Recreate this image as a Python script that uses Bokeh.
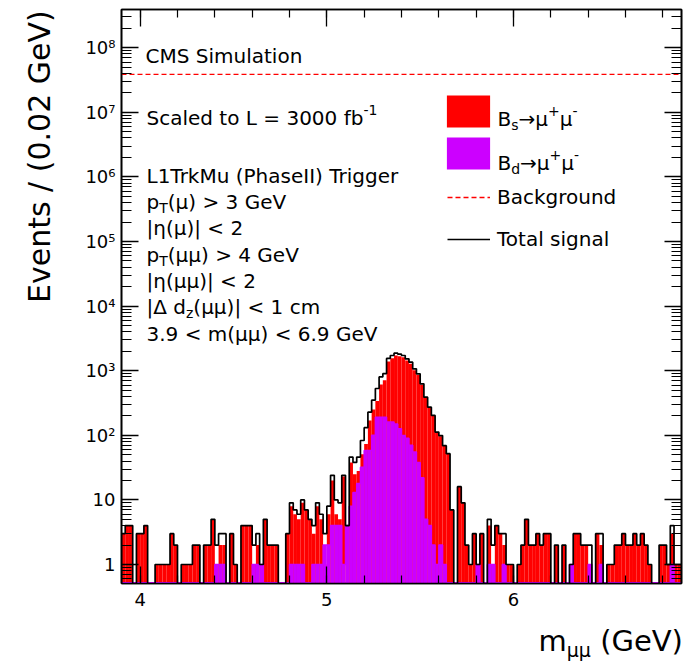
import numpy as np
from math import pi
from bokeh.plotting import figure
from bokeh.models import (ColumnDataSource, FixedTicker, LinearAxis, LogAxis,
                          Label, Legend, LegendItem)
from bokeh.embed import file_html
from bokeh.resources import INLINE

# ---------------- data ----------------
mass_lo, mass_hi = 3.9, 6.9          # GeV, 0.02 GeV bins (150 bins)

bs_counts = [
    3, 4, 4, 0, 3, 3, 4, 0, 0, 1,
    1, 1, 1, 3, 2, 0, 1, 1, 1, 2,
    2, 0, 2, 2, 5, 1, 2, 2, 0, 3,
    1, 0, 4, 4, 4, 1, 2, 0, 5, 2,
    2, 2, 0, 0, 3, 8, 6, 5, 9, 7,
    5, 3, 8, 5, 1, 6, 20, 6, 5, 23,
    0, 38, 25, 28, 51, 73, 170, 250, 340, 610,
    710, 1390, 1560, 1716, 1674, 1621, 1438, 1285, 1015, 857,
    605, 384, 268, 201, 111, 97, 68, 52, 7, 0,
    16, 9, 2, 1, 3, 0, 3, 0, 4, 1,
    4, 3, 2, 1, 1, 0, 1, 2, 5, 2,
    2, 3, 2, 3, 3, 0, 2, 0, 2, 0,
    0, 3, 3, 2, 2, 1, 0, 3, 2, 0,
    1, 1, 2, 2, 3, 2, 2, 3, 2, 3,
    2, 1, 0, 0, 2, 2, 1, 3, 1, 1,
]

bd_counts = [
    0, 0, 0, 0, 0, 0, 0, 0, 0, 0,
    0, 0, 0, 0, 0, 0, 0, 0, 0, 0,
    0, 0, 0, 0, 0, 1, 1, 1, 0, 0,
    0, 0, 0, 0, 0, 1, 1, 1, 0, 0,
    0, 0, 0, 0, 0, 1, 1, 1, 1, 0,
    0, 1, 1, 1, 2, 2, 4, 4, 4, 1,
    4, 8, 13, 18, 32, 58, 58, 100, 190, 190,
    190, 160, 160, 150, 126, 99, 90, 70, 55, 38,
    22, 5, 4, 2, 1, 2, 1, 0, 0, 0,
    0, 0, 0, 0, 0, 1, 0, 0, 1, 1,
    0, 0, 1, 0, 0, 0, 0, 0, 0, 0,
    0, 0, 0, 0, 0, 0, 0, 0, 0, 0,
    1, 0, 0, 0, 0, 1, 0, 0, 1, 0,
    0, 0, 0, 0, 0, 0, 0, 0, 0, 0,
    0, 0, 0, 0, 0, 0, 0, 1, 0, 0,
]

background_level = 3.85e7

x_major_ticks = [4, 5, 6]
y_tick_labels = {1.0: "1", 10.0: "10", 1e2: "10²", 1e3: "10³", 1e4: "10⁴",
                 1e5: "10⁵", 1e6: "10⁶", 1e7: "10⁷", 1e8: "10⁸"}
y_title = "Events / (0.02 GeV)"

# ---------------- derived ----------------
edges = np.linspace(mass_lo, mass_hi, len(bs_counts) + 1)
bs = np.array(bs_counts, float)
bd = np.array(bd_counts, float)
total = bs + bd

Y0, Y1 = 0.508, 3.9e8
FLOOR = 1e-3


def bars(vals):
    m = vals > 0
    return ColumnDataSource(dict(left=edges[:-1][m], right=edges[1:][m],
                                 top=vals[m], bottom=np.full(m.sum(), FLOOR)))


def step(vals, floor):
    xs = np.repeat(edges, 2)
    ys = np.concatenate([[floor], np.repeat(np.where(vals > 0, vals, floor), 2), [floor]])
    return xs, ys


FONT = "DejaVu Sans"
W, H = 687, 664
MBL, MBR, MBT, MBB = 121, 6, 9, 81
FL = MBL
FB = H - MBB
FW = W - MBL - MBR
FH = H - MBT - MBB

p = figure(width=W, height=H, x_range=(mass_lo, mass_hi), y_range=(Y0, Y1),
           y_axis_type="log", output_backend="svg", toolbar_location=None,
           min_border_left=MBL, min_border_right=MBR, min_border_top=MBT,
           min_border_bottom=MBB, background_fill_color="white",
           border_fill_color="white")
p.xgrid.visible = False
p.ygrid.visible = False
p.outline_line_color = "black"
p.outline_line_width = 1.6

# histograms
RED, PURPLE = "#ff0000", "#cc00ff"
r_bs = p.quad(left="left", right="right", top="top", bottom="bottom",
              source=bars(bs), fill_color=RED, line_color=None)
r_bd = p.quad(left="left", right="right", top="top", bottom="bottom",
              source=bars(bd), fill_color=PURPLE, line_color=None)
bx, by = step(bd, Y0 * 1.03)
p.line(bx, by, line_color=PURPLE, line_width=1.5)
tx, ty = step(total, FLOOR)
r_tot = p.line(tx, ty, line_color="black", line_width=1.7)
r_bkg = p.line([edges[0], edges[-1]], [background_level, background_level],
               line_color=RED, line_width=1.3, line_dash="5 3")

# axes
xt = FixedTicker(ticks=x_major_ticks,
                 minor_ticks=[round(v, 2) for v in np.arange(4.0, 6.9, 0.2)])
ymin = [k * 10.0 ** n for n in range(-1, 9) for k in range(2, 10)]
yt = FixedTicker(ticks=list(y_tick_labels.keys()), minor_ticks=ymin)


def style(ax, minor_len):
    ax.axis_line_color = "black"
    ax.axis_line_width = 1.6
    ax.major_tick_line_color = "black"
    ax.minor_tick_line_color = "black"
    ax.major_tick_line_width = 1.3
    ax.minor_tick_line_width = 1.2
    ax.major_tick_in = 17
    ax.major_tick_out = 0
    ax.minor_tick_in = minor_len
    ax.minor_tick_out = 0
    ax.major_label_text_font = FONT
    ax.major_label_text_font_size = "18px"
    ax.major_label_text_color = "black"


def text_axis(ax, size, standoff):
    ax.axis_line_color = None
    ax.major_tick_line_color = None
    ax.minor_tick_line_color = None
    ax.major_tick_in = 0
    ax.major_tick_out = 0
    ax.major_label_text_font = FONT
    ax.major_label_text_font_size = f"{size}px"
    ax.major_label_text_color = "black"
    ax.major_label_standoff = standoff


xa = p.xaxis[0]
xa.ticker = xt
style(xa, 8)
xa.major_label_standoff = 9

ya = p.yaxis[0]
ya.ticker = yt
style(ya, 10)
ya.major_label_overrides = y_tick_labels
ya.major_label_standoff = 6

top = LinearAxis(ticker=xt)
style(top, 8)
top.major_label_text_font_size = "1px"
top.major_label_text_alpha = 0
top.major_label_standoff = 0
p.add_layout(top, "above")

right = LogAxis(ticker=yt)
style(right, 10)
right.major_label_text_font_size = "1px"
right.major_label_text_alpha = 0
right.major_label_standoff = 0
p.add_layout(right, "right")

# ---- axis titles (kept outside the frame via extra label-only axes) ----
def px_to_x(px):
    return mass_lo + (px - FL) / FW * (mass_hi - mass_lo)


def py_to_y(py):
    lo, hi = np.log10(Y0), np.log10(Y1)
    return 10 ** (lo + (FB - py) / FH * (hi - lo))


ADV = {' ': .318, '(': .390, ')': .390, '+': .838, '-': .361, '.': .318, '/': .337,
       '<': .838, '=': .838, '>': .838, '|': .337, 'μ': .636, 'η': .634, 'Δ': .684,
       '→': .838,
       'A': .684, 'B': .686, 'C': .698, 'D': .770, 'E': .632, 'G': .775, 'I': .295,
       'L': .557, 'M': .863, 'P': .603, 'S': .635, 'T': .611, 'V': .684,
       'a': .613, 'b': .635, 'c': .550, 'd': .635, 'e': .615, 'f': .352, 'g': .635,
       'h': .634, 'i': .278, 'k': .579, 'l': .278, 'm': .974, 'n': .634, 'o': .612,
       'p': .635, 'r': .411, 's': .521, 't': .392, 'u': .634, 'z': .525}


def adv(s, size):
    return sum(ADV.get(c, .636) for c in s) * size


# y title: one tick label, rotated, on an extra left axis (its top end sits at the tick)
yc = py_to_y(9.8)
ytitle_ax = LogAxis(ticker=FixedTicker(ticks=[yc], minor_ticks=[]),
                    major_label_overrides={yc: y_title})
text_axis(ytitle_ax, 30, 43)
ytitle_ax.major_label_orientation = pi / 2
p.add_layout(ytitle_ax, "left")

# x title "m_μμ (GeV)": big parts on one axis, subscript on a second one
x0 = 538
m_c = px_to_x(x0 + adv("m", 29) / 2)
sub_start = x0 + adv("m", 29)
mu_c = px_to_x(sub_start + adv("μμ", 19) / 2)
gev_start = sub_start + adv("μμ", 19) + adv(" ", 29)
gev_c = px_to_x(gev_start + adv("(GeV)", 29) / 2)
xt_big = LinearAxis(ticker=FixedTicker(ticks=[m_c, gev_c], minor_ticks=[]),
                    major_label_overrides={m_c: "m", gev_c: "(GeV)"})
text_axis(xt_big, 29, 15)
p.add_layout(xt_big, "below")
xt_sub = LinearAxis(ticker=FixedTicker(ticks=[mu_c], minor_ticks=[]),
                    major_label_overrides={mu_c: "μμ"})
text_axis(xt_sub, 19, -22)
p.add_layout(xt_sub, "below")

# legends
legA = Legend(items=[LegendItem(label=" ", renderers=[r_bs]),
                     LegendItem(label=" ", renderers=[r_bd])],
              location=(320, 410), glyph_width=54, glyph_height=40,
              label_height=40, spacing=2, padding=0, margin=0,
              border_line_alpha=0, background_fill_alpha=0,
              label_text_font_size="10px")
legB = Legend(items=[LegendItem(label="Background", renderers=[r_bkg]),
                     LegendItem(label="Total signal", renderers=[r_tot])],
              location=(326, 329), glyph_width=43, glyph_height=30,
              label_height=30, spacing=12, padding=0, margin=0,
              label_standoff=7, border_line_alpha=0, background_fill_alpha=0,
              label_text_font=FONT, label_text_font_size="20px",
              label_text_color="black")
p.add_layout(legA)
p.add_layout(legB)


def rich(px, py, parts):
    x = px
    for txt, size, dy in parts:
        p.add_layout(Label(x=x - FL, y=FB - (py + dy), x_units="screen",
                           y_units="screen", text=txt, text_font=FONT,
                           text_font_size=f"{size}px", text_color="black",
                           text_align="left", text_baseline="alphabetic"))
        x += adv(txt, size)


rich(145, 55, [("CMS Simulation", 20, 0)])
rich(146, 117, [("Scaled to L = 3000 fb", 20, 0), ("-1", 14, -8)])
rich(146, 175, [("L1TrkMu (PhaseII) Trigger", 20, 0)])
rich(146, 201, [("p", 20, 0), ("T", 14, 6), ("(μ) > 3 GeV", 20, 0)])
rich(146, 227, [("|η(μ)| < 2", 20, 0)])
rich(146, 254, [("p", 20, 0), ("T", 14, 6), ("(μμ) > 4 GeV", 20, 0)])
rich(146, 280, [("|η(μμ)| < 2", 20, 0)])
rich(146, 306, [("|Δ d", 20, 0), ("z", 14, 6), ("(μμ)| < 1 cm", 20, 0)])
rich(146, 333, [("3.9 < m(μμ) < 6.9 GeV", 20, 0)])

rich(497, 118, [("B", 20, 0), ("s", 14, 6), ("→μ", 20, 0), ("+", 14, -8),
                ("μ", 20, 0), ("-", 14, -8)])
rich(497, 162, [("B", 20, 0), ("d", 14, 6), ("→μ", 20, 0), ("+", 14, -8),
                ("μ", 20, 0), ("-", 14, -8)])

open("out.html", "w").write(file_html(p, INLINE))
